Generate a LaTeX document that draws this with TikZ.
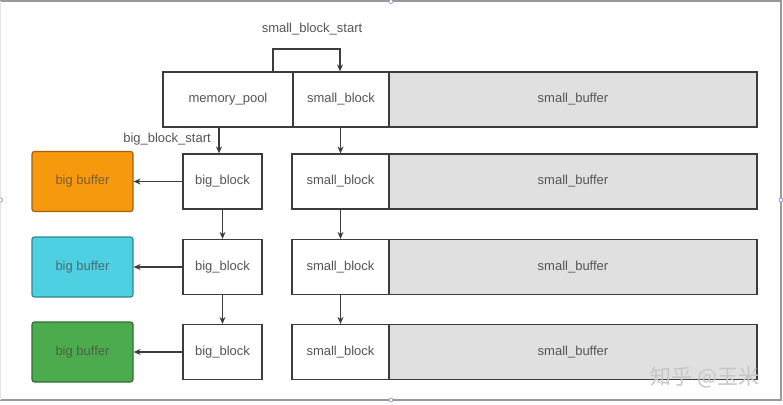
\documentclass[tikz,border=0pt]{standalone}
\usepackage{fontspec}
\setmainfont{Liberation Sans}
\newfontfamily\cjk{Noto Sans CJK SC}
\usetikzlibrary{arrows.meta}
\definecolor{edge}{HTML}{3C3C3C}
\definecolor{txt}{HTML}{555555}
\definecolor{bufgray}{HTML}{E0E0E0}
\definecolor{orangefill}{HTML}{F7990D}
\definecolor{cyanfill}{HTML}{4DD0E2}
\definecolor{greenfill}{HTML}{4CAB4C}
\begin{document}
\begin{tikzpicture}[x=1pt,y=-1pt,
  box/.style={draw=edge, line width=1.2pt, fill=white, text=txt,
    font=\fontsize{13}{15}\selectfont, inner sep=0, minimum height=55pt},
  buf/.style={box, fill=bufgray},
  bigbuf/.style={draw=#1!65!black, fill=#1, rounded corners=2.5pt, line width=1.2pt,
    text=#1!35!black!80, font=\fontsize{13}{15}\selectfont, inner sep=0,
    minimum width=101pt, minimum height=60pt},
  conn/.style={draw=edge, line width=1.2pt, -{Stealth[length=7pt,width=6pt]}},
  lbl/.style={text=txt, font=\fontsize{13}{15}\selectfont, inner sep=0},
  handle/.style={circle, draw=blue!40!gray!70, fill=white, line width=0.6pt, inner sep=0, minimum size=4pt}]
\useasboundingbox (0,0) rectangle (783,404);
\fill[white] (0,0) rectangle (783,404);
% screenshot frame
\draw[gray!80, line width=2pt] (0,1.5) -- (781,1.5) -- (781,400) -- (0,400);
\draw[gray!20, line width=1pt] (0.5,1.5) -- (0.5,400);
\node[handle] (h1) at (391,1.5) {};
\node[handle] (h2) at (391,400) {};
\node[handle] (h3) at (0.5,200) {};
\node[handle] (h4) at (781,200) {};

% top row
\node[box, minimum width=130pt] (mp) at (228,99.5) {memory\_pool};
\node[box, minimum width=96pt] (sb0) at (341,99.5) {small\_block};
\node[buf, minimum width=368pt] (sf0) at (573,99.5) {small\_buffer};

% rows
\foreach \i/\y/\c in {1/181.5/orangefill, 2/267/cyanfill, 3/352/greenfill}{
  \node[box, minimum width=79pt] (bb\i) at (222.5,\y) {big\_block};
  \node[box, minimum width=97pt] (sb\i) at (340.5,\y) {small\_block};
  \node[buf, minimum width=368pt] (sf\i) at (573,\y) {small\_buffer};
  \node[bigbuf=\c] (gb\i) at (82.5,\y) {big buffer};
}

% labels
\node[lbl] (lsbs) at (312,29) {small\_block\_start};
\node[lbl] (lbbs) at (167,139) {big\_block\_start};

% connectors
\draw[conn] (mp.north -| 273,0) -- (273,49) -| (sb0.north -| 340,0);
\draw[conn] (mp.south -| 219,0) -- (bb1.north -| 219,0);
\draw[conn] (bb1.south) -- (bb2.north);
\draw[conn] (bb2.south) -- (bb3.north);
\draw[conn] (sb1.north |- sb0.south) -- (sb1.north);
\draw[conn] (sb1.south) -- (sb2.north);
\draw[conn] (sb2.south) -- (sb3.north);
\foreach \i in {1,2,3}{
  \draw[conn] (bb\i.west) -- (gb\i.east);
}

% watermark
\node[text=gray!45, font=\cjk\fontsize{21}{23}\selectfont, inner sep=0] (wm) at (705,377) {知乎 @玉米};
\end{tikzpicture}
\end{document}
